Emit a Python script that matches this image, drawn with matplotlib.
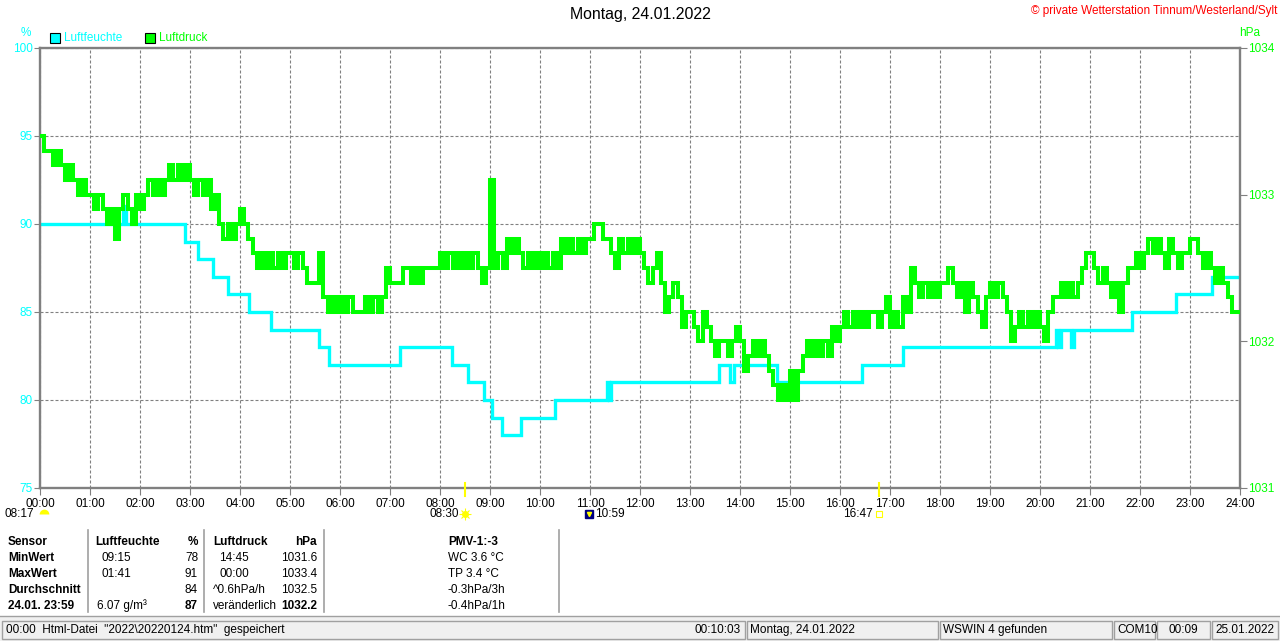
import matplotlib
matplotlib.use("Agg")
import matplotlib.pyplot as plt
import numpy as np
from matplotlib.lines import Line2D
from matplotlib.patches import Rectangle
from matplotlib.transforms import offset_copy

plt.rcParams["font.family"] = ["Liberation Sans", "DejaVu Sans"]
plt.rcParams["font.size"] = 8.5

W, H = 1280, 641
CYAN = "#00FFFF"
GREEN = "#00FF00"
GRAY = "#808080"
YELLOW = "#FFFF00"

title = "Montag, 24.01.2022"
copyright_text = "\u00a9 private Wetterstation Tinnum/Westerland/Sylt"

hour_labels = [f"{h:02d}:00" for h in range(25)]
humid_ticks = [75, 80, 85, 90, 95, 100]
press_ticks = [1031, 1032, 1033, 1034]

# Luftfeuchte: step changes (hour, %)
humid_t = [0, 1.65, 1.72, 2.9, 3.16, 3.46, 3.76, 4.18, 4.62, 5.58, 5.78, 7.2,
           8.24, 8.56, 8.88, 9.04, 9.24, 9.62, 10.3, 11.34, 11.38, 11.42,
           13.58, 13.8, 13.88, 14.74, 16.44, 17.26, 20.32, 20.36, 20.42,
           20.62, 20.68, 21.84, 22.71, 23.44, 24]
humid_v = [90, 91, 90, 89, 88, 87, 86, 85, 84, 83, 82, 83,
           82, 81, 80, 79, 78, 79, 80, 81, 80, 81,
           82, 81, 82, 81, 82, 83, 84, 83, 84,
           83, 84, 85, 86, 87, 87]

# Luftdruck: one reading every 5 minutes (hPa), 00:00 .. 24:00
press_step_min = 5
press_v = [
    1033.4, 1033.3, 1033.3, 1033.2, 1033.3, 1033.2, 1033.1, 1033.2, 1033.1, 1033.0, 1033.1, 1033.0,
    1033.0, 1032.9, 1033.0, 1032.9, 1032.8, 1032.9, 1032.7, 1032.9, 1033.0, 1032.9, 1032.8, 1033.0,
    1032.9, 1033.0, 1033.1, 1033.0, 1033.1, 1033.0, 1033.1, 1033.2, 1033.1, 1033.2, 1033.1, 1033.2,
    1033.1, 1033.0, 1033.1, 1033.0, 1033.1, 1032.9, 1033.0, 1032.8, 1032.7, 1032.8, 1032.7, 1032.8,
    1032.9, 1032.8, 1032.7, 1032.6, 1032.5, 1032.6, 1032.5, 1032.6, 1032.5, 1032.6, 1032.5, 1032.6,
    1032.6, 1032.5, 1032.6, 1032.5, 1032.4, 1032.4, 1032.4, 1032.6, 1032.3, 1032.2, 1032.3, 1032.2,
    1032.3, 1032.2, 1032.3, 1032.2, 1032.2, 1032.2, 1032.3, 1032.2, 1032.3, 1032.2, 1032.3, 1032.5,
    1032.4, 1032.4, 1032.4, 1032.5, 1032.5, 1032.4, 1032.5, 1032.4, 1032.5, 1032.5, 1032.5, 1032.5,
    1032.6, 1032.5, 1032.6, 1032.5, 1032.6, 1032.5, 1032.6, 1032.5, 1032.6, 1032.5, 1032.4, 1032.5,
    1033.1, 1032.5, 1032.6, 1032.5, 1032.7, 1032.6, 1032.7, 1032.6, 1032.5, 1032.6, 1032.5, 1032.6,
    1032.5, 1032.6, 1032.5, 1032.6, 1032.5, 1032.7, 1032.6, 1032.7, 1032.6, 1032.7, 1032.6, 1032.7,
    1032.7, 1032.8, 1032.8, 1032.7, 1032.7, 1032.6, 1032.5, 1032.7, 1032.6, 1032.7, 1032.6, 1032.7,
    1032.6, 1032.5, 1032.4, 1032.5, 1032.6, 1032.4, 1032.2, 1032.3, 1032.4, 1032.3, 1032.1, 1032.2,
    1032.2, 1032.1, 1032.0, 1032.2, 1032.1, 1032.0, 1031.9, 1032.0, 1032.0, 1031.9, 1032.0, 1032.1,
    1032.0, 1031.8, 1031.9, 1032.0, 1031.9, 1032.0, 1031.9, 1031.8, 1031.7, 1031.6, 1031.7, 1031.6,
    1031.8, 1031.6, 1031.8, 1031.9, 1032.0, 1031.9, 1032.0, 1031.9, 1032.0, 1031.9, 1032.1, 1032.0,
    1032.1, 1032.2, 1032.1, 1032.2, 1032.1, 1032.2, 1032.1, 1032.2, 1032.2, 1032.1, 1032.2, 1032.3,
    1032.1, 1032.2, 1032.1, 1032.3, 1032.2, 1032.5, 1032.4, 1032.3, 1032.4, 1032.3, 1032.4, 1032.3,
    1032.4, 1032.4, 1032.5, 1032.4, 1032.3, 1032.4, 1032.2, 1032.4, 1032.3, 1032.2, 1032.1, 1032.3,
    1032.4, 1032.3, 1032.4, 1032.3, 1032.2, 1032.0, 1032.1, 1032.2, 1032.1, 1032.2, 1032.1, 1032.2,
    1032.1, 1032.0, 1032.2, 1032.3, 1032.3, 1032.4, 1032.3, 1032.4, 1032.3, 1032.4, 1032.5, 1032.6,
    1032.6, 1032.5, 1032.4, 1032.5, 1032.4, 1032.3, 1032.4, 1032.2, 1032.4, 1032.5, 1032.5, 1032.6,
    1032.5, 1032.6, 1032.7, 1032.6, 1032.7, 1032.6, 1032.5, 1032.7, 1032.6, 1032.5, 1032.6, 1032.6,
    1032.7, 1032.7, 1032.6, 1032.5, 1032.6, 1032.5, 1032.4, 1032.5, 1032.4, 1032.3, 1032.2, 1032.2,
    1032.2,
]
press_t = np.arange(len(press_v)) * press_step_min / 60

# sun / moon events (label, hour)
moon_prev = ("08:17", 0.0)
sunrise = ("08:30", 8.5)
moon_event = ("10:59", 10 + 59 / 60)
sunset = ("16:47", 16 + 47 / 60)

# summary table
row_heads = ["Sensor", "MinWert", "MaxWert", "Durchschnitt", "24.01. 23:59"]
hum_times = ["Luftfeuchte", "09:15", "01:41", "", "6.07 g/m\u00b3"]
hum_vals = ["%", "78", "91", "84", "87"]
prs_notes = ["Luftdruck", "14:45", "00:00", "^0.6hPa/h", "ver\u00e4nderlich"]
prs_vals = ["hPa", "1031.6", "1033.4", "1032.5", "1032.2"]
extra_lines = ["PMV-1:-3", "WC 3.6 \u00b0C", "TP 3.4 \u00b0C", "-0.3hPa/3h", "-0.4hPa/1h"]

status_left = '00:00  Html-Datei  "2022\\20220124.htm"  gespeichert'
status_time = "00:10:03"
status_panels = ["Montag, 24.01.2022", "WSWIN 4 gefunden", "COM10", "00:09", "25.01.2022"]


def fx(x):
    return x / W


def fy(y):
    return 1 - y / H


AX_L, AX_R, AX_T, AX_B = 40, 1240, 48, 488

fig = plt.figure(figsize=(W / 100, H / 100), dpi=100)
fig.patch.set_facecolor("white")
ax = fig.add_axes([fx(AX_L), fy(AX_B), (AX_R - AX_L) / W, (AX_B - AX_T) / H])
ax2 = ax.twinx()

ax.set_xlim(0, 24)
ax.set_ylim(75, 100)
ax2.set_ylim(1031, 1034)

ax.set_xticks(range(25))
ax.set_xticklabels(hour_labels)
ax.set_yticks(humid_ticks)
ax.set_yticklabels([str(v) for v in humid_ticks])
ax2.set_yticks(press_ticks)

ax.grid(True, color=GRAY, linewidth=0.8, linestyle=(0, (2.7, 1.8)))
ax.tick_params(axis="x", direction="out", length=5, width=0.8, color=GRAY,
               labelsize=8.5, pad=2, labelcolor="black")
ax.tick_params(axis="y", direction="out", length=4, width=0.8, color=GRAY,
               labelsize=8.5, pad=1, labelcolor=CYAN)
ax2.tick_params(axis="y", direction="out", length=5, width=0.8, color=GRAY,
                labelsize=8.5, pad=1, labelcolor=GREEN)

for side in ["left", "right", "top", "bottom"]:
    ax.spines[side].set_color(GRAY)
    ax.spines[side].set_linewidth(1.7)
    ax2.spines[side].set_visible(False)

ax.step(humid_t, humid_v, where="post", color=CYAN, linewidth=2.4,
        solid_joinstyle="miter")
ax2.step(press_t, press_v, where="post", color=GREEN, linewidth=2.9,
         solid_joinstyle="miter")

# sunrise / sunset ticks and icons below the frame
xt = ax.get_xaxis_transform()
icon_y = (AX_B - 514) / (AX_B - AX_T)
tick_top = (AX_B - 483) / (AX_B - AX_T)
tick_bot = (AX_B - 496) / (AX_B - AX_T)
for _, t in [sunrise, sunset]:
    ax.plot([t, t], [tick_top, tick_bot], transform=xt, color=YELLOW,
            linewidth=1.5, clip_on=False, zorder=5)

left_txt = offset_copy(xt, fig=fig, x=-6, units="dots")
right_txt = offset_copy(xt, fig=fig, x=6, units="dots")
moon_icon = offset_copy(xt, fig=fig, x=4, units="dots")

ax.plot([moon_prev[1]], [icon_y], transform=moon_icon, marker="o", markersize=7,
        fillstyle="top", markerfacecolor=YELLOW, markerfacecoloralt="none",
        markeredgewidth=0, clip_on=False)
ax.text(moon_prev[1], icon_y, moon_prev[0], transform=left_txt, ha="right",
        va="center", color="black")

ax.plot([sunrise[1]], [icon_y], transform=xt, marker="o", markersize=4,
        color=YELLOW, clip_on=False)
ax.plot([sunrise[1]], [icon_y], transform=xt, marker="+", markersize=8,
        color=YELLOW, markeredgewidth=0.8, clip_on=False)
ax.plot([sunrise[1]], [icon_y], transform=xt, marker="x", markersize=6,
        color=YELLOW, markeredgewidth=0.8, clip_on=False)
ax.text(sunrise[1], icon_y, sunrise[0], transform=left_txt, ha="right",
        va="center", color="black")

ax.plot([moon_event[1]], [icon_y], transform=xt, marker="s", markersize=6,
        color="#000080", clip_on=False)
ax.plot([moon_event[1]], [icon_y], transform=xt, marker="v", markersize=3,
        color=YELLOW, clip_on=False)
ax.text(moon_event[1], icon_y, moon_event[0], transform=right_txt, ha="left",
        va="center", color="black")

ax.plot([sunset[1]], [icon_y], transform=xt, marker="s", markersize=4,
        markerfacecolor="none", markeredgecolor=YELLOW, markeredgewidth=0.8,
        clip_on=False)
ax.text(sunset[1], icon_y, sunset[0], transform=left_txt, ha="right",
        va="center", color="black")

# header texts
fig.text(fx(640), fy(15), title, ha="center", va="center", fontsize=11.4)
fig.text(fx(1277), fy(11), copyright_text, ha="right", va="center",
         fontsize=8.5, color="#FF0000")
fig.text(fx(26), fy(33), "%", ha="center", va="center", color=CYAN)
fig.text(fx(1250), fy(33), "hPa", ha="center", va="center", color=GREEN)

for x0, color, label in [(50, CYAN, "Luftfeuchte"), (145, GREEN, "Luftdruck")]:
    fig.add_artist(Rectangle((fx(x0), fy(43)), 10 / W, 10 / H, transform=fig.transFigure,
                             facecolor=color, edgecolor="black", linewidth=0.8))
    fig.text(fx(x0 + 14), fy(38), label, ha="left", va="center", color=color)

# summary table
row_y = [542, 558, 574, 590, 606]
hum_x = [95, 101, 101, 101, 97]
prs_x = [213, 219, 219, 213, 213]
for i, y in enumerate(row_y):
    head = "bold" if i == 0 else "normal"
    val_w = "bold" if i in (0, 4) else "normal"
    fig.text(fx(8), fy(y), row_heads[i], ha="left", va="center", fontweight="bold")
    fig.text(fx(hum_x[i]), fy(y), hum_times[i], ha="left", va="center", fontweight=head)
    fig.text(fx(198), fy(y), hum_vals[i], ha="right", va="center", fontweight=val_w)
    fig.text(fx(prs_x[i]), fy(y), prs_notes[i], ha="left", va="center", fontweight=head)
    fig.text(fx(317), fy(y), prs_vals[i], ha="right", va="center", fontweight=val_w)
    fig.text(fx(448), fy(y), extra_lines[i], ha="left", va="center", fontweight=head)

for x in [88, 204, 324, 559]:
    fig.add_artist(Line2D([fx(x), fx(x)], [fy(530), fy(612)], transform=fig.transFigure,
                          color="#A0A0A0", linewidth=1.2))

# status bar
fig.add_artist(Rectangle((0, 0), 1, fy(616), transform=fig.transFigure,
                         facecolor="#F0F0F0", edgecolor="none"))
fig.add_artist(Line2D([0, 1], [fy(616), fy(616)], transform=fig.transFigure,
                      color="#A0A0A0", linewidth=1))
panels = [(2, 745), (747, 938), (940, 1112), (1114, 1155), (1157, 1210), (1212, 1278)]
for x0, x1 in panels:
    fig.add_artist(Rectangle((fx(x0), fy(639)), (x1 - x0) / W, 18 / H, transform=fig.transFigure,
                             facecolor="none", edgecolor="#A0A0A0", linewidth=1))
fig.text(fx(6), fy(630), status_left, ha="left", va="center")
fig.text(fx(741), fy(630), status_time, ha="right", va="center")
for (x0, x1), txt in zip(panels[1:], status_panels):
    if txt == "00:09":
        fig.text(fx((x0 + x1) / 2), fy(630), txt, ha="center", va="center")
    else:
        fig.text(fx(x0 + 3), fy(630), txt, ha="left", va="center")

fig.savefig("out.png", dpi=100)
